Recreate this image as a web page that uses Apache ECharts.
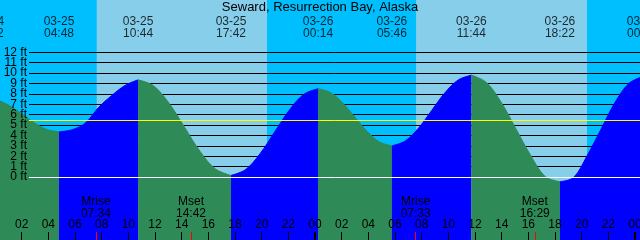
<!DOCTYPE html>
<html><head><meta charset="utf-8">
<script src="https://cdn.jsdelivr.net/npm/echarts@6/dist/echarts.min.js"></script>
<style>html,body{margin:0;padding:0;background:#00BFFF}#c{width:640px;height:240px}</style>
</head><body><div id="c"></div>
<script>
const FONT = '"Liberation Sans", Arial, Helvetica, sans-serif';
const chartTitle = 'Seward, Resurrection Bay, Alaska';

// tide curve readings: hours since 03-25 00:00, height in ft
const tideHours = [
  -0.47, 0.41, 1.29, 2.17, 3.04, 3.92,
  4.80, 5.79, 6.78, 7.77, 8.76, 9.74,
  10.73, 11.89, 13.06, 14.22, 15.38, 16.54,
  17.70, 18.79, 19.88, 20.97, 22.06, 23.14,
  24.23, 25.16, 26.08, 27.00, 27.92, 28.84,
  29.77, 30.76, 31.76, 32.75, 33.74, 34.74,
  35.73, 36.84, 37.94, 39.05, 40.16, 41.26,
  42.37, 43.39, 44.42, 45.45, 46.48, 47.51,
  48.53
];
const tideFeet = [
  7.5, 7.29, 6.71, 5.93, 5.14, 4.56,
  4.35, 4.55, 5.2, 6.7, 7.85, 8.8,
  9.35, 8.78, 7.09, 4.78, 2.46, 0.77,
  0.15, 0.71, 2.24, 4.33, 6.41, 7.94,
  8.5, 8.13, 7.13, 5.75, 4.38, 3.37,
  3.0, 3.46, 4.7, 6.4, 8.1, 9.34,
  9.8, 9.11, 7.24, 4.68, 2.11, 0.05,
  -0.45, -0.05, 2.08, 4.6, 7.13, 8.97,
  9.65
];
// high / low tide events
const extremeHours = [-0.47, 4.80, 10.73, 17.70, 24.23, 29.77, 35.73, 42.37, 48.53];
const extremeDates = ['03-24','03-25','03-25','03-25','03-26','03-26','03-26','03-26','03-27'];
const extremeTimes = ['23:32','04:48','10:44','17:42','00:14','05:46','11:44','18:22','00:32'];
// daylight
const sunriseHours = [7.63, 31.58];
const sunsetHours = [20.40, 44.40];
// moon events
const moonHours = [7.567, 14.70, 31.55, 40.483];
const moonEvents = ['Mrise','Mset','Mrise','Mset'];
const moonTimes = ['07:34','14:42','07:33','16:29'];
// axis ticks
const hourTicks = [0,2,4,6,8,10,12,14,16,18,20,22,24,26,28,30,32,34,36,38,40,42,44,46,48,50];
const hourLabels = [2,4,6,8,10,12,14,16,18,20,22,24,26,28,30,32,34,36,38,40,42,44,46,48];
const midnightHours = [0, 24, 48];
const footTicks = [0,1,2,3,4,5,6,7,8,9,10,11,12];
const meanLevelFt = 5.45;

// layout
const W = 640, H = 240;
const pxPerHour = 40 / 3, hourZeroPx = -5, xMin = -2, xMax = 50;
const gridLeft = hourZeroPx + xMin * pxPerHour;
const gridWidth = (xMax - xMin) * pxPerHour;
const zeroPx = 177, pxPerFt = 10.39;
const yMin = -(H - zeroPx) / pxPerFt, yMax = zeroPx / pxPerFt;
const labelRowFt = (zeroPx - 27.2) / pxPerFt;
const firstFt = footTicks[0], lastFt = footTicks[footTicks.length - 1];
// blank guard labels beyond both ends keep the real end labels from being auto-hidden
const footLabelValues = [firstFt - 1].concat(footTicks, [lastFt + 1]);

const pad = n => (n < 10 ? '0' : '') + n;

const segSeries = [];
for (let i = 0; i < extremeHours.length - 1; i++) {
  const a = extremeHours[i], b = extremeHours[i + 1];
  const pts = [];
  tideHours.forEach((h, j) => { if (h >= a - 1e-9 && h <= b + 1e-9) pts.push([h, tideFeet[j]]); });
  const rising = pts[pts.length - 1][1] > pts[0][1];
  const col = rising ? '#0000FF' : '#2E8B57';
  segSeries.push({
    type: 'line', xAxisIndex: 0, yAxisIndex: 0, data: pts, smooth: 0.35,
    symbol: 'none', showSymbol: false, silent: true, z: 2,
    lineStyle: { width: 1, color: col }, areaStyle: { color: col, opacity: 1, origin: 'start' }
  });
}

const xBase = {
  type: 'value', gridIndex: 0, min: xMin, max: xMax, position: 'bottom', z: 6,
  axisLine: { show: false, onZero: false }, splitLine: { show: false }
};

const chart = echarts.init(document.getElementById('c'), null, { renderer: 'canvas' });
chart.setOption({
  animation: false,
  backgroundColor: '#00BFFF',
  textStyle: { fontFamily: FONT },
  title: { text: chartTitle, left: 'center', top: 1, padding: 0,
    textStyle: { fontSize: 13, fontWeight: 'normal', color: '#000', fontFamily: FONT } },
  grid: [
    { left: gridLeft, width: gridWidth, top: 0, bottom: 0, containLabel: false, outerBoundsMode: 'none', show: false },
    { left: 29, right: 0, top: zeroPx - 12 * pxPerFt, bottom: H - zeroPx, containLabel: false, outerBoundsMode: 'none', show: false },
    { left: 29, right: 0, top: 0, bottom: 0, containLabel: false, outerBoundsMode: 'none', show: false }
  ],
  xAxis: [
    Object.assign({}, xBase, {
      axisTick: { show: true, inside: true, length: 8, customValues: hourTicks, lineStyle: { color: '#000', width: 1 } },
      axisLabel: { show: true, inside: true, margin: 9, customValues: hourLabels, color: '#000', fontSize: 12, fontFamily: FONT,
        showMinLabel: true, showMaxLabel: true, formatter: v => pad(Math.round(v) % 24) } }),
    Object.assign({}, xBase, {
      axisLabel: { show: false },
      axisTick: { show: true, inside: true, length: 8, customValues: midnightHours, lineStyle: { color: '#000', width: 2 } } }),
    Object.assign({}, xBase, {
      axisTick: { show: true, inside: true, length: 8, customValues: moonHours, lineStyle: { color: '#FF0000', width: 1 } },
      axisLabel: { show: true, inside: true, margin: 20, customValues: moonHours, color: '#000', fontSize: 12, lineHeight: 12, fontFamily: FONT,
        showMinLabel: true, showMaxLabel: true,
        formatter: v => { const i = moonHours.indexOf(v); return i < 0 ? '' : moonEvents[i] + '\n' + moonTimes[i]; } } }),
    { type: 'value', gridIndex: 1, min: 0, max: 1, show: false, axisLine: { onZero: false } },
    { type: 'value', gridIndex: 2, min: 0, max: 1, show: false, axisLine: { onZero: false } }
  ],
  yAxis: [
    { type: 'value', gridIndex: 0, min: yMin, max: yMax, show: false, axisLine: { onZero: false } },
    { type: 'value', gridIndex: 1, min: 0, max: 12, interval: 1, z: 1, position: 'left',
      axisLine: { show: false, onZero: false }, axisTick: { show: false }, axisLabel: { show: false },
      splitLine: { show: true, showMinLine: true, showMaxLine: true, lineStyle: { color: '#000', width: 1 } } },
    { type: 'value', gridIndex: 2, min: yMin, max: yMax, z: 10, position: 'left',
      axisLine: { show: false, onZero: false }, axisTick: { show: false }, splitLine: { show: false },
      axisLabel: { show: true, margin: 2, color: '#000', fontSize: 12, lineHeight: 9, fontFamily: FONT,
        customValues: footLabelValues, hideOverlap: false,
        formatter: v => (v < firstFt || v > lastFt) ? '' : Math.round(v) + ' ft' } }
  ],
  series: [
    { type: 'line', xAxisIndex: 0, yAxisIndex: 0, data: [], z: 0, silent: true,
      markArea: { silent: true, z: 0, itemStyle: { color: '#87CEEB', opacity: 1 },
        data: sunriseHours.map((s, i) => [{ xAxis: s }, { xAxis: sunsetHours[i] }]) } },
    ...segSeries,
    { type: 'line', xAxisIndex: 3, yAxisIndex: 1, data: [], z: 4, silent: true,
      markLine: { silent: true, symbol: 'none', label: { show: false }, z: 5,
        data: [ { yAxis: 0, lineStyle: { color: '#FFFFFF', width: 1, type: 'solid' } },
                { yAxis: meanLevelFt, lineStyle: { color: '#FFFF00', width: 1, type: 'solid' } } ] } },
    { type: 'scatter', xAxisIndex: 0, yAxisIndex: 0, z: 8, silent: true, clip: false, symbolSize: 0,
      data: extremeHours.map(h => [h, labelRowFt]),
      label: { show: true, position: 'inside', color: '#000', fontSize: 12, lineHeight: 12, fontFamily: FONT,
        formatter: p => extremeDates[p.dataIndex] + '\n' + extremeTimes[p.dataIndex] } }
  ]
});
</script></body></html>
